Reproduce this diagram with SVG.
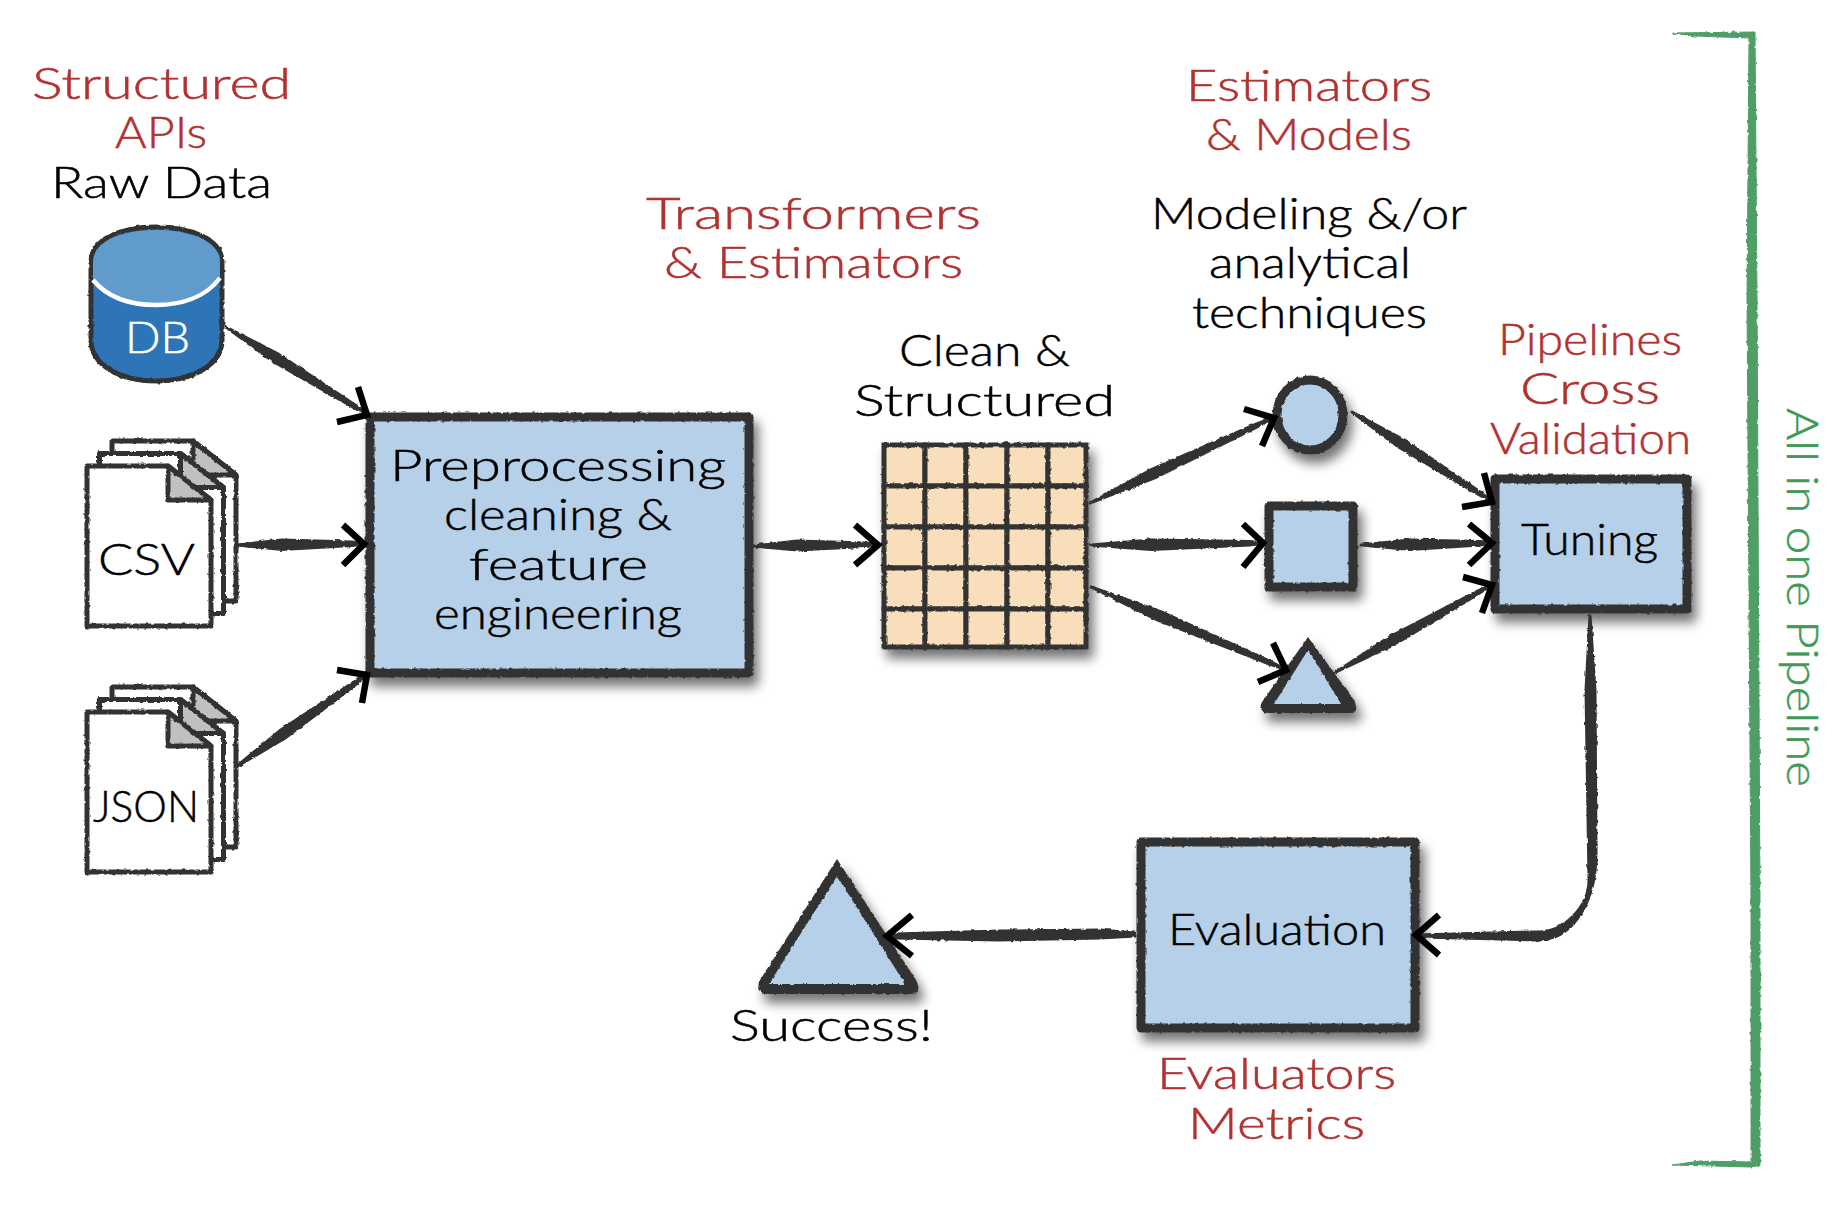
<svg xmlns="http://www.w3.org/2000/svg" xmlns:xlink="http://www.w3.org/1999/xlink" width="1848" height="1208" viewBox="0 0 1848 1208">
<style>
text{font-family:"Lato","Open Sans","Liberation Sans",sans-serif;font-size:44px;font-weight:300;stroke-width:.5}
.k{fill:#000;stroke:#000}.r{fill:#B23232;stroke:#B23232}.g{fill:#3F9A5A;stroke:#3F9A5A}.w{fill:#fff;stroke:#fff}
.box{fill:#B5D0E8;stroke:#333;stroke-width:9;stroke-linejoin:round}
.dk{fill:#333}.bl{fill:#B5D0E8}
.sheet{fill:#fff;stroke:#333;stroke-width:5;stroke-linejoin:round}
.fold{fill:#C0C0C0;stroke:#333;stroke-width:5;stroke-linejoin:round}
.cell{fill:#F8DEBB;stroke:#333;stroke-width:5}
.tail{fill:#333;stroke:#333;stroke-width:3;stroke-linejoin:round}
.head{fill:none;stroke:#000;stroke-width:6.5;stroke-linejoin:miter}
</style>
<defs>
<filter id="sk" filterUnits="userSpaceOnUse" x="0" y="0" width="1848" height="1208">
<feTurbulence type="fractalNoise" baseFrequency="0.22" numOctaves="2" seed="4" result="n"/>
<feDisplacementMap in="SourceGraphic" in2="n" scale="3" xChannelSelector="R" yChannelSelector="G" result="d"/>
<feGaussianBlur in="d" stdDeviation="0.5"/>
</filter>
<filter id="sh" filterUnits="userSpaceOnUse" x="0" y="0" width="1848" height="1208">
<feTurbulence type="fractalNoise" baseFrequency="0.22" numOctaves="2" seed="9" result="n"/>
<feDisplacementMap in="SourceGraphic" in2="n" scale="3" xChannelSelector="R" yChannelSelector="G" result="d"/>
<feGaussianBlur in="d" stdDeviation="0.5" result="s"/>
<feGaussianBlur in="SourceAlpha" stdDeviation="6" result="b"/>
<feOffset in="b" dx="5" dy="9" result="o"/>
<feComponentTransfer in="o" result="oo"><feFuncA type="linear" slope="0.55"/></feComponentTransfer>
<feMerge><feMergeNode in="oo"/><feMergeNode in="s"/></feMerge>
</filter>
<g id="sheets">
<g transform="translate(25,-25)"><polygon class="sheet" points="87,466 168,466 211,500 211,626 87,626"/><polygon class="fold" points="168,466 211,500 168,500"/></g>
<g transform="translate(12.5,-12.5)"><polygon class="sheet" points="87,466 168,466 211,500 211,626 87,626"/><polygon class="fold" points="168,466 211,500 168,500"/></g>
<polygon class="sheet" points="87,466 168,466 211,500 211,626 87,626"/><polygon class="fold" points="168,466 211,500 168,500"/>
</g>
</defs>
<rect width="1848" height="1208" fill="#fff"/>

<g id="label-structured">
<text class="r" x="32" y="99" textLength="259" lengthAdjust="spacingAndGlyphs">Structured</text>
<text class="r" x="115" y="148" textLength="92" lengthAdjust="spacingAndGlyphs">APIs</text>
<text class="k" x="51" y="198" textLength="221" lengthAdjust="spacingAndGlyphs">Raw Data</text>
</g>

<g id="node-db">
<path d="M91,262C91,240 120,227 156,227C192,227 222,240 222,262L222,340C222,365 192,381 156,381C120,381 91,365 91,340Z" fill="#2E74B8" stroke="#333" stroke-width="5" filter="url(#sk)"/>
<path d="M93,262C93,242 120,230 156,230C192,230 220,242 220,262L220,278C205,298 180,305 156,305C130,305 108,298 93,280Z" fill="#619BCB"/>
<path d="M93,280C108,298 130,305 156,305C180,305 205,298 220,278" fill="none" stroke="#fff" stroke-width="4.5"/>
<text class="w" x="125" y="353" textLength="65" lengthAdjust="spacingAndGlyphs">DB</text>
</g>

<g id="node-csv">
<use xlink:href="#sheets" href="#sheets" filter="url(#sk)"/>
<text class="k" x="98" y="575" textLength="97" lengthAdjust="spacingAndGlyphs">CSV</text>
</g>
<g id="node-json">
<use xlink:href="#sheets" href="#sheets" transform="translate(0,246)" filter="url(#sk)"/>
<text class="k" x="93" y="822" textLength="106" lengthAdjust="spacingAndGlyphs">JSON</text>
</g>

<g id="node-preprocessing">
<rect class="box" x="370" y="417" width="379" height="256" filter="url(#sh)"/>
<text class="k" x="390" y="481" textLength="336" lengthAdjust="spacingAndGlyphs">Preprocessing</text>
<text class="k" x="444" y="530" textLength="228" lengthAdjust="spacingAndGlyphs">cleaning &amp;</text>
<text class="k" x="469" y="580" textLength="179" lengthAdjust="spacingAndGlyphs">feature</text>
<text class="k" x="434" y="629" textLength="248" lengthAdjust="spacingAndGlyphs">engineering</text>
</g>

<g id="label-transformers">
<text class="r" x="646" y="229" textLength="335" lengthAdjust="spacingAndGlyphs">Transformers</text>
<text class="r" x="664" y="278" textLength="299" lengthAdjust="spacingAndGlyphs">&amp; Estimators</text>
</g>

<g id="node-grid">
<g filter="url(#sh)">
<rect class="cell" x="884" y="445" width="41" height="41"/><rect class="cell" x="925" y="445" width="41" height="41"/><rect class="cell" x="966" y="445" width="41" height="41"/><rect class="cell" x="1007" y="445" width="41" height="41"/><rect class="cell" x="1048" y="445" width="38" height="41"/>
<rect class="cell" x="884" y="486" width="41" height="41"/><rect class="cell" x="925" y="486" width="41" height="41"/><rect class="cell" x="966" y="486" width="41" height="41"/><rect class="cell" x="1007" y="486" width="41" height="41"/><rect class="cell" x="1048" y="486" width="38" height="41"/>
<rect class="cell" x="884" y="527" width="41" height="41"/><rect class="cell" x="925" y="527" width="41" height="41"/><rect class="cell" x="966" y="527" width="41" height="41"/><rect class="cell" x="1007" y="527" width="41" height="41"/><rect class="cell" x="1048" y="527" width="38" height="41"/>
<rect class="cell" x="884" y="568" width="41" height="41"/><rect class="cell" x="925" y="568" width="41" height="41"/><rect class="cell" x="966" y="568" width="41" height="41"/><rect class="cell" x="1007" y="568" width="41" height="41"/><rect class="cell" x="1048" y="568" width="38" height="41"/>
<rect class="cell" x="884" y="609" width="41" height="38"/><rect class="cell" x="925" y="609" width="41" height="38"/><rect class="cell" x="966" y="609" width="41" height="38"/><rect class="cell" x="1007" y="609" width="41" height="38"/><rect class="cell" x="1048" y="609" width="38" height="38"/>
</g>
</g>
<g id="label-clean">
<text class="k" x="899" y="366" textLength="171" lengthAdjust="spacingAndGlyphs">Clean &amp;</text>
<text class="k" x="854" y="416" textLength="261" lengthAdjust="spacingAndGlyphs">Structured</text>
</g>

<g id="label-estimators">
<text class="r" x="1186" y="101" textLength="246" lengthAdjust="spacingAndGlyphs">Estimators</text>
<text class="r" x="1206" y="150" textLength="206" lengthAdjust="spacingAndGlyphs">&amp; Models</text>
</g>
<g id="label-modeling">
<text class="k" x="1151" y="229" textLength="316" lengthAdjust="spacingAndGlyphs">Modeling &amp;/or</text>
<text class="k" x="1209" y="278" textLength="202" lengthAdjust="spacingAndGlyphs">analytical</text>
<text class="k" x="1192" y="328" textLength="235" lengthAdjust="spacingAndGlyphs">techniques</text>
</g>

<g id="node-circle"><ellipse cx="1310" cy="415" rx="33" ry="35" class="box" filter="url(#sh)"/></g>
<g id="node-square"><rect class="box" x="1269" y="506" width="84" height="81" filter="url(#sh)"/></g>
<g id="node-triangle">
<g filter="url(#sh)"><path class="dk" d="M1308,637L1354,700Q1360,713 1350,713L1268,713Q1257,713 1262,702Z"/><path class="bl" d="M1308,650L1341,704L1274,704Z"/></g>
</g>

<g id="label-pipelines">
<text class="r" x="1498" y="355" textLength="184" lengthAdjust="spacingAndGlyphs">Pipelines</text>
<text class="r" x="1520" y="404" textLength="140" lengthAdjust="spacingAndGlyphs">Cross</text>
<text class="r" x="1490" y="454" textLength="201" lengthAdjust="spacingAndGlyphs">Validation</text>
</g>
<g id="node-tuning">
<rect class="box" x="1495" y="479" width="192" height="130" filter="url(#sh)"/>
<text class="k" x="1521" y="555" textLength="137" lengthAdjust="spacingAndGlyphs">Tuning</text>
</g>

<g id="node-evaluation">
<rect class="box" x="1141" y="842" width="274" height="186" filter="url(#sh)"/>
<text class="k" x="1168" y="945" textLength="218" lengthAdjust="spacingAndGlyphs">Evaluation</text>
</g>
<g id="label-evaluators">
<text class="r" x="1157" y="1089" textLength="239" lengthAdjust="spacingAndGlyphs">Evaluators</text>
<text class="r" x="1188" y="1139" textLength="177" lengthAdjust="spacingAndGlyphs">Metrics</text>
</g>

<g id="node-success">
<g filter="url(#sh)"><path class="dk" d="M837,859L916,980Q923,994 910,994L768,994Q754,994 760,980Z"/><path class="bl" d="M837,876L905,984L769,984Z"/></g>
<text class="k" x="730" y="1041" textLength="203" lengthAdjust="spacingAndGlyphs">Success!</text>
</g>

<g id="connectors">
<g filter="url(#sk)">
<polygon class="tail" points="226,327 278.4,354.2 354.8,404.7 368,415 353.2,407.3 273.6,361.8"/>
<polygon class="tail" points="237,545 282,540 352,542 365,544 352,545.5 282,549.5"/>
<polygon class="tail" points="236,767 279.6,730.8 353.9,682.1 368,674 355.7,684.5 284.8,738.2"/>
<polygon class="tail" points="753,546 797,541 866,543 879,545 866,546.5 797,550"/>
<polygon class="tail" points="1090,503 1152.9,468.8 1255.9,424.2 1275,417 1257.1,427 1156.7,477"/>
<polygon class="tail" points="1091,545 1151,540 1250,541.5 1264,543 1250,545 1151,549.5"/>
<polygon class="tail" points="1091,587 1161.4,611.9 1268,660.3 1287,670 1266.8,663.1 1157.8,620.1"/>
<polygon class="tail" points="1352,412 1403.8,439.7 1479.8,491.7 1493,502 1478.2,494.3 1399,447.3"/>
<polygon class="tail" points="1361,545 1410,540 1480,541.5 1493,543 1480,545 1410,549.5"/>
<polygon class="tail" points="1336,672 1388.8,637.3 1476.6,591.5 1493,584 1478,594.1 1393.2,645.1"/>
<path class="tail" d="M1590,615L1595,690L1596,850C1597,905 1570,942 1535,940L1420,937L1415,935L1535,932C1565,934 1589,905 1589,880L1586,690Z"/>
<polygon class="tail" points="1135,933 1100,930 1000,931 895,934 886,936 895,938 1000,940 1100,938 1135,936"/>
</g>
<polyline class="head" points="358,387 367,415 337,422"/>
<polyline class="head" points="343,525 364,544 343,565"/>
<polyline class="head" points="337,670 367,675 362,703"/>
<polyline class="head" points="855,525 878,545 855,565"/>
<polyline class="head" points="1244,409 1274,418 1262,446"/>
<polyline class="head" points="1243,524 1263,543 1243,567"/>
<polyline class="head" points="1273,643 1286,670 1258,682"/>
<polyline class="head" points="1484,473 1492,502 1462,507"/>
<polyline class="head" points="1469,524 1492,543 1469,565"/>
<polyline class="head" points="1463,577 1492,585 1482,613"/>
<polyline class="head" points="1439,915 1416,935 1439,955"/>
<polyline class="head" points="912,915 887,936 912,956"/>
</g>

<g id="bracket">
<path filter="url(#sk)" fill="#4F9E66" stroke="#4F9E66" stroke-width="1" d="M1672,33L1755,32L1757,300L1760,900L1760,1165L1751,1167L1672,1165L1700,1161L1751,1162L1751,900L1747,300L1749,38L1695,36Z"/>
<text class="g" transform="translate(1787,408) rotate(90)" x="0" y="0" textLength="379" lengthAdjust="spacingAndGlyphs">All in one Pipeline</text>
</g>
</svg>
